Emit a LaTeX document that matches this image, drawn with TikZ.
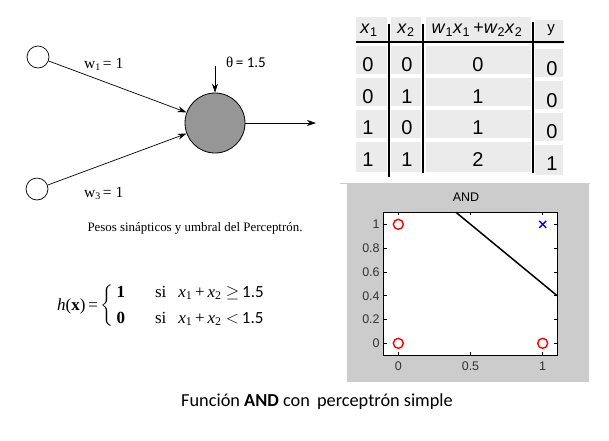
\documentclass[tikz,border=0pt]{standalone}
\usepackage{amsmath}
\usepackage{fontspec}
\setmainfont{Liberation Serif}
\newfontfamily\arial{Liberation Sans}
\newfontfamily\calibri{Carlito}
\usetikzlibrary{arrows.meta}
\definecolor{cellgray}{RGB}{235,235,235}
\definecolor{figgray}{RGB}{204,204,204}
\definecolor{neurongray}{RGB}{150,150,150}
\tikzset{
  inp/.style={circle, draw, line width=0.7pt, minimum size=22pt, inner sep=0pt},
  neuron/.style={circle, draw, line width=0.8pt, fill=neurongray, minimum size=60pt, inner sep=0pt},
  syn/.style={line width=0.7pt, -{Stealth[length=9pt,width=6pt]}},
  cell/.style={fill=cellgray, draw=none},
  tabtxt/.style={font=\arial\fontsize{20}{22}\selectfont, inner sep=0pt},
  hdr/.style={font=\arial\fontsize{18}{20}\selectfont, inner sep=0pt},
  tabline/.style={line width=1.2pt},
  ticklab/.style={font=\arial\fontsize{12.5}{14}\selectfont, text=black!80, inner sep=0pt},
  omark/.style={circle, draw=red, line width=1.4pt, minimum size=10pt, inner sep=0pt},
  wlab/.style={anchor=west, inner sep=0pt, font=\fontsize{15.5}{18}\selectfont},
}
\begin{document}
\begin{tikzpicture}[x=1pt,y=-1pt]
\useasboundingbox (0,0) rectangle (609,440);
\fill[white] (0,0) rectangle (609,440);

% ---------- perceptron ----------
\node[inp] (in1) at (38,57) {};
\node[inp] (in2) at (37,189) {};
\node[neuron] (n) at (215,123) {};
\coordinate (out) at (316,123);
\coordinate (th) at (215,66);
\draw[syn] (in1) -- (n);
\draw[syn] (in2) -- (n);
\draw[syn] (n) -- (out);
\draw[syn] (th) -- (n.north);
\node[wlab] (w1) at (84,64) {w{\fontsize{10}{12}\selectfont\raisebox{-2pt}{1}}\,= 1};
\node[wlab] (w3) at (84,193) {w{\fontsize{10}{12}\selectfont\raisebox{-2pt}{3}}\,= 1};
\node[wlab, font=\fontsize{15}{18}\selectfont] (theta) at (226,62) {θ\,{\calibri = 1.5}};
\node[inner sep=0pt, font=\fontsize{12.9}{15}\selectfont] (cap1) at (195,228) {Pesos sinápticos y umbral del Perceptrón.};

% ---------- formula ----------
\node[anchor=west, inner sep=0pt, font=\fontsize{17}{20}\selectfont] (hx) at (57,306)
  {\textit{h}(\textbf{x})\,=\,$\left\{\begin{tabular}{@{\,}l@{\hspace{30pt}}l@{}}
   \textbf{1} & si\hspace{12pt}\textit{x}$_{\text{1}}$\,+\,\textit{x}$_{\text{2}}$ $\geq$\,{\calibri 1.5}\\[6pt]
   \textbf{0} & si\hspace{12pt}\textit{x}$_{\text{1}}$\,+\,\textit{x}$_{\text{2}}$ $<$\,{\calibri 1.5}
   \end{tabular}\right.$};

% ---------- table ----------
\foreach \ya/\yb in {17/41,46/74,78/106,110/138,142/172}{
  \fill[cell] (356,\ya) rectangle (387,\yb);
  \fill[cell] (391,\ya) rectangle (421,\yb);
  \fill[cell] (426,\ya) rectangle (531,\yb);
  \fill[cell] (535,\ya+3) rectangle (563,\yb+3);
}
\coordinate (hl1) at (356,42);
\coordinate (hl2) at (564,42);
\draw[tabline] (hl1) -- (hl2);
\coordinate (v1a) at (389,24); \coordinate (v1b) at (389,177);
\coordinate (v2a) at (423,24); \coordinate (v2b) at (423,173);
\coordinate (v3a) at (533,22); \coordinate (v3b) at (533,173);
\draw[tabline] (v1a) -- (v1b);
\draw[tabline] (v2a) -- (v2b);
\draw[tabline] (v3a) -- (v3b);
\draw[line width=1pt, black!20] (340,183) -- (590,183);

\node[hdr] (h1) at (369,30) {\textit{x}$_{\text{1}}$};
\node[hdr] (h2) at (406,30) {\textit{x}$_{\text{2}}$};
\node[hdr] (h3) at (477,30) {\textit{w}$_{\text{1}}$\textit{x}$_{\text{1}}$\,+\textit{w}$_{\text{2}}$\textit{x}$_{\text{2}}$};
\node[hdr, font=\arial\fontsize{15}{17}\selectfont] (h4) at (551,30) {y};

\foreach \r/\a/\b/\s/\yv [count=\i] in {65/0/0/0/0, 97/0/1/1/0, 128/1/0/1/0, 160/1/1/2/1}{
  \node[tabtxt] (c1\i) at (368,\r) {\a};
  \node[tabtxt] (c2\i) at (407,\r) {\b};
  \node[tabtxt] (c3\i) at (478,\r) {\s};
  \node[tabtxt] (c4\i) at (552,\r+4) {\yv};
}

% ---------- plot ----------
\fill[figgray] (347,184) rectangle (589,382);
\node[font=\arial\fontsize{12.5}{14}\selectfont, inner sep=0pt] (title) at (466,197) {AND};
\begin{scope}[shift={(398.3pt,-343.3pt)}, x=144.4pt, y=119pt]
  \fill[white] (-0.1,-0.1) rectangle (1.1,1.1);
  \draw[line width=0.8pt] (-0.1,-0.1) rectangle (1.1,1.1);
  \foreach \v in {0,0.2,0.4,0.6,0.8,1}{
    \draw[line width=0.6pt] (-0.1,\v) -- ++(3pt,0);
    \draw[line width=0.6pt] (1.1,\v) -- ++(-3pt,0);
  }
  \node[ticklab, anchor=east] (yl0) at ([xshift=-4pt]-0.1,0) {0};
  \node[ticklab, anchor=east] (yl2) at ([xshift=-4pt]-0.1,0.2) {0.2};
  \node[ticklab, anchor=east] (yl4) at ([xshift=-4pt]-0.1,0.4) {0.4};
  \node[ticklab, anchor=east] (yl6) at ([xshift=-4pt]-0.1,0.6) {0.6};
  \node[ticklab, anchor=east] (yl8) at ([xshift=-4pt]-0.1,0.8) {0.8};
  \node[ticklab, anchor=east] (yl10) at ([xshift=-4pt]-0.1,1) {1};
  \foreach \u in {0,0.5,1}{
    \draw[line width=0.6pt] (\u,-0.1) -- ++(0,3pt);
    \draw[line width=0.6pt] (\u,1.1) -- ++(0,-3pt);
  }
  \node[ticklab] (xl0) at ([yshift=-11pt]0,-0.1) {0};
  \node[ticklab] (xl5) at ([yshift=-11pt]0.5,-0.1) {0.5};
  \node[ticklab] (xl10) at ([yshift=-11pt]1,-0.1) {1};
  \coordinate (la) at (0.4,1.1);
  \coordinate (lb) at (1.1,0.4);
  \draw[line width=1.5pt] (la) -- (lb);
  \node[omark] (p00) at (0,0) {};
  \node[omark] (p01) at (0,1) {};
  \node[omark] (p10) at (1,0) {};
  \coordinate (p11) at (1,1);
  \draw[blue, line width=1.4pt] ([shift={(-3.5pt,-3.5pt)}]p11) -- ([shift={(3.5pt,3.5pt)}]p11);
  \draw[blue, line width=1.4pt] ([shift={(-3.5pt,3.5pt)}]p11) -- ([shift={(3.5pt,-3.5pt)}]p11);
\end{scope}

% ---------- caption ----------
\node[font=\calibri\fontsize{18.3}{21}\selectfont, inner sep=0pt] (cap2) at (317,402) {Función \textbf{AND} con\, perceptrón simple};
\end{tikzpicture}
\end{document}
